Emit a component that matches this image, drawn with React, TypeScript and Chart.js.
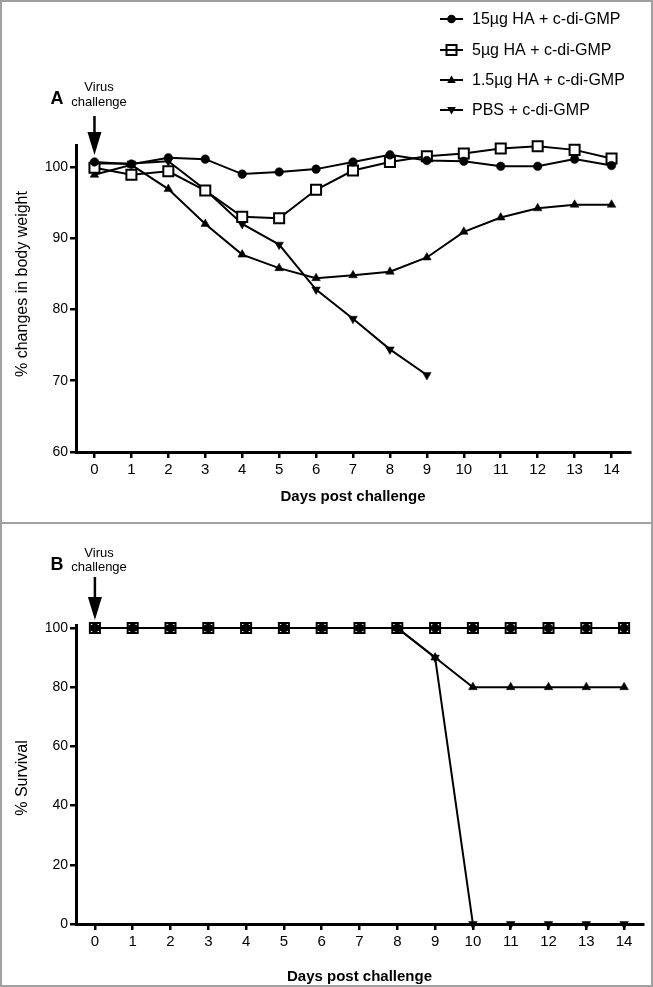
import React, { useEffect, useRef } from 'react';
import { Chart, registerables } from 'chart.js';

Chart.register(...registerables);

const FONT = "'Liberation Sans', Arial, Helvetica, sans-serif";

// ---------- data ----------
const days = [0, 1, 2, 3, 4, 5, 6, 7, 8, 9, 10, 11, 12, 13, 14];
const pbsWeightDays = [0, 1, 2, 3, 4, 5, 6, 7, 8, 9];
const groupLabels = ['15µg HA + c-di-GMP', '5µg HA + c-di-GMP', '1.5µg HA + c-di-GMP', 'PBS + c-di-GMP'];

const weight15 = [100.7, 100.4, 101.3, 101.1, 99.0, 99.3, 99.7, 100.7, 101.7, 100.9, 100.8, 100.1, 100.1, 101.1, 100.2];
const weight5 = [99.9, 98.9, 99.4, 96.7, 93.0, 92.8, 96.8, 99.5, 100.7, 101.5, 101.9, 102.6, 102.9, 102.4, 101.2];
const weight1_5 = [98.9, 100.3, 96.9, 92.0, 87.7, 85.8, 84.4, 84.8, 85.3, 87.3, 90.9, 92.9, 94.2, 94.7, 94.7];
const weightPBS = [100.5, 100.5, 100.8, 96.8, 92.0, 89.1, 82.8, 78.7, 74.4, 70.8];

const surv15 = [100, 100, 100, 100, 100, 100, 100, 100, 100, 100, 100, 100, 100, 100, 100];
const surv5 = [100, 100, 100, 100, 100, 100, 100, 100, 100, 100, 100, 100, 100, 100, 100];
const surv1_5 = [100, 100, 100, 100, 100, 100, 100, 100, 100, 90, 80, 80, 80, 80, 80];
const survPBS = [100, 100, 100, 100, 100, 100, 100, 100, 100, 90, 0, 0, 0, 0, 0];

const weightTicks = [60, 70, 80, 90, 100];
const survivalTicks = [0, 20, 40, 60, 80, 100];

const toPoints = (xs: number[], ys: number[]) => xs.map((x, i) => ({ x, y: ys[i] }));

type MarkerKind = 'circle' | 'square' | 'tri' | 'triDown';
const markerKinds: MarkerKind[] = ['circle', 'square', 'tri', 'triDown'];

function drawMarker(ctx: CanvasRenderingContext2D, kind: MarkerKind, x: number, y: number) {
  ctx.save();
  ctx.fillStyle = '#000';
  ctx.strokeStyle = '#000';
  ctx.beginPath();
  if (kind === 'circle') {
    ctx.arc(x, y, 4.3, 0, Math.PI * 2);
    ctx.fill();
  } else if (kind === 'square') {
    ctx.lineWidth = 2;
    ctx.rect(x - 5, y - 5, 10, 10);
    ctx.fillStyle = '#fff';
    ctx.fill();
    ctx.stroke();
  } else if (kind === 'tri') {
    ctx.moveTo(x, y - 4.5);
    ctx.lineTo(x + 4.3, y + 3);
    ctx.lineTo(x - 4.3, y + 3);
    ctx.closePath();
    ctx.fill();
  } else {
    ctx.moveTo(x, y + 4.5);
    ctx.lineTo(x + 4.3, y - 3);
    ctx.lineTo(x - 4.3, y - 3);
    ctx.closePath();
    ctx.fill();
  }
  ctx.restore();
}

const decorPlugin = {
  id: 'decor',
  afterDraw(chart: any, _args: any, opts: any) {
    const ctx: CanvasRenderingContext2D = chart.ctx;
    const x0 = chart.scales.x.getPixelForValue(0);
    ctx.save();
    ctx.fillStyle = '#000';
    ctx.strokeStyle = '#000';
    ctx.textAlign = 'center';
    ctx.textBaseline = 'middle';
    ctx.font = `bold 18px ${FONT}`;
    ctx.fillText(opts.letter, opts.letterX, opts.letterY);
    ctx.font = `13px ${FONT}`;
    ctx.fillText('Virus', opts.textX, opts.virusY);
    ctx.fillText('challenge', opts.textX, opts.challengeY);
    // arrow
    const headH = 23;
    ctx.lineWidth = 2.5;
    ctx.beginPath();
    ctx.moveTo(x0, opts.arrowTop);
    ctx.lineTo(x0, opts.arrowTip - headH + 2);
    ctx.stroke();
    ctx.beginPath();
    ctx.moveTo(x0 - 7, opts.arrowTip - headH);
    ctx.lineTo(x0 + 7, opts.arrowTip - headH);
    ctx.lineTo(x0, opts.arrowTip);
    ctx.closePath();
    ctx.fill();
    // y title
    ctx.save();
    ctx.translate(opts.yTitleX, opts.yTitleY);
    ctx.rotate(-Math.PI / 2);
    ctx.font = `16px ${FONT}`;
    ctx.fillText(opts.yTitle, 0, 0);
    ctx.restore();
    // legend
    if (opts.legend) {
      const rows = [19, 50, 80, 110];
      groupLabels.forEach((label, i) => {
        const y = rows[i];
        const kind = markerKinds[i];
        const drawLine = () => {
          ctx.save();
          ctx.lineWidth = 2;
          ctx.beginPath();
          ctx.moveTo(440, y);
          ctx.lineTo(463, y);
          ctx.stroke();
          ctx.restore();
        };
        if (kind === 'square') {
          drawMarker(ctx, kind, 451.5, y);
          drawLine();
        } else {
          drawLine();
          drawMarker(ctx, kind, 451.5, y);
        }
        ctx.save();
        ctx.textAlign = 'left';
        ctx.textBaseline = 'middle';
        ctx.font = `16px ${FONT}`;
        ctx.fillText(label, 472, y + 1);
        ctx.restore();
      });
    }
    ctx.restore();
  },
};

function seriesStyle(kind: MarkerKind) {
  const base: any = {
    borderColor: '#000',
    borderWidth: 2,
    tension: 0,
    fill: false,
    clip: false,
    pointBorderColor: '#000',
    pointHoverRadius: 0,
  };
  if (kind === 'circle') {
    return { ...base, pointStyle: 'circle', pointRadius: 4.3, pointBackgroundColor: '#000', pointBorderWidth: 0.5 };
  }
  if (kind === 'square') {
    return { ...base, pointStyle: 'rect', pointRadius: 7.1, pointBackgroundColor: '#fff', pointBorderWidth: 2 };
  }
  if (kind === 'tri') {
    return { ...base, pointStyle: 'triangle', pointRadius: 5, pointBackgroundColor: '#000', pointBorderWidth: 0.5 };
  }
  return { ...base, pointStyle: 'triangle', pointRotation: 180, pointRadius: 5, pointBackgroundColor: '#000', pointBorderWidth: 0.5 };
}

function axisCommon(tickSize: number, pad: number) {
  return {
    grid: { display: true, drawOnChartArea: false, drawTicks: true, tickLength: 6, lineWidth: 2.5, color: '#000' },
    border: { display: true, color: '#000', width: 3 },
    ticks: { color: '#000', font: { family: FONT, size: tickSize }, padding: pad },
  };
}

export default function App() {
  const refA = useRef<HTMLCanvasElement>(null);
  const refB = useRef<HTMLCanvasElement>(null);

  useEffect(() => {
    document.body.style.margin = '0';
    Chart.defaults.font.family = FONT;
    Chart.defaults.color = '#000';

    const chartA = new Chart(refA.current as HTMLCanvasElement, {
      type: 'line',
      data: {
        datasets: [
          { label: groupLabels[0], data: toPoints(days, weight15), ...seriesStyle('circle') },
          { label: groupLabels[1], data: toPoints(days, weight5), ...seriesStyle('square') },
          { label: groupLabels[2], data: toPoints(days, weight1_5), ...seriesStyle('tri') },
          { label: groupLabels[3], data: toPoints(pbsWeightDays, weightPBS), ...seriesStyle('triDown') },
        ],
      },
      options: {
        responsive: false,
        animation: false,
        devicePixelRatio: 1,
        layout: { padding: { left: 0, right: 23, top: 145.6, bottom: 0 } },
        plugins: {
          legend: { display: false },
          tooltip: { enabled: false },
          decor: {
            letter: 'A', letterX: 57, letterY: 99,
            textX: 99, virusY: 87, challengeY: 102.5,
            arrowTop: 116, arrowTip: 155,
            yTitle: '% changes in body weight', yTitleX: 23, yTitleY: 284,
            legend: true,
          },
        } as any,
        scales: {
          x: {
            type: 'linear', min: -0.5, max: 14.5,
            afterBuildTicks: (s: any) => { s.ticks = days.map((v) => ({ value: v })); },
            afterFit: (s: any) => { s.height = 71; },
            ...axisCommon(15, 3),
            title: { display: true, text: 'Days post challenge', color: '#000', font: { family: FONT, size: 15, weight: 'bold' }, padding: { top: 0, bottom: 17 } },
          },
          y: {
            type: 'linear', min: 60, max: 103,
            afterBuildTicks: (s: any) => { s.ticks = weightTicks.map((v) => ({ value: v })); },
            afterFit: (s: any) => { s.width = 76; },
            ...axisCommon(14, 2),
          },
        } as any,
      },
      plugins: [decorPlugin as any],
    });

    const chartB = new Chart(refB.current as HTMLCanvasElement, {
      type: 'line',
      data: {
        datasets: [
          { label: groupLabels[0], data: toPoints(days, surv15), ...seriesStyle('circle'), order: 0 },
          { label: groupLabels[1], data: toPoints(days, surv5), ...seriesStyle('square'), order: 3 },
          { label: groupLabels[2], data: toPoints(days, surv1_5), ...seriesStyle('tri'), order: 2 },
          { label: groupLabels[3], data: toPoints(days, survPBS), ...seriesStyle('triDown'), order: 1 },
        ],
      },
      options: {
        responsive: false,
        animation: false,
        devicePixelRatio: 1,
        layout: { padding: { left: 0, right: 10, top: 102, bottom: 0 } },
        plugins: {
          legend: { display: false },
          tooltip: { enabled: false },
          decor: {
            letter: 'B', letterX: 57, letterY: 42,
            textX: 99, virusY: 30, challengeY: 44,
            arrowTop: 54, arrowTip: 97,
            yTitle: '% Survival', yTitleX: 23, yTitleY: 255,
            legend: false,
          },
        } as any,
        scales: {
          x: {
            type: 'linear', min: -0.5, max: 14.5,
            afterBuildTicks: (s: any) => { s.ticks = days.map((v) => ({ value: v })); },
            afterFit: (s: any) => { s.height = 63; },
            ...axisCommon(15, 3),
            title: { display: true, text: 'Days post challenge', color: '#000', font: { family: FONT, size: 15, weight: 'bold' }, padding: { top: 0, bottom: 1 } },
          },
          y: {
            type: 'linear', min: 0, max: 101,
            afterBuildTicks: (s: any) => { s.ticks = survivalTicks.map((v) => ({ value: v })); },
            afterFit: (s: any) => { s.width = 76; },
            ...axisCommon(14, 2),
          },
        } as any,
      },
      plugins: [decorPlugin as any],
    });

    return () => {
      chartA.destroy();
      chartB.destroy();
    };
  }, []);

  return (
    <div style={{ position: 'absolute', left: 0, top: 0, width: 653, height: 987, background: '#fff', overflow: 'hidden' }}>
      <canvas ref={refA} width={653} height={523} style={{ position: 'absolute', left: 0, top: 0, width: 653, height: 523 }} />
      <canvas ref={refB} width={653} height={464} style={{ position: 'absolute', left: 0, top: 523, width: 653, height: 464 }} />
      <div style={{ position: 'absolute', left: 0, top: 0, width: 653, height: 987, border: '2px solid #a0a0a0', boxSizing: 'border-box', pointerEvents: 'none' }} />
      <div style={{ position: 'absolute', left: 0, top: 522, width: 653, height: 2, background: '#a0a0a0', pointerEvents: 'none' }} />
    </div>
  );
}
